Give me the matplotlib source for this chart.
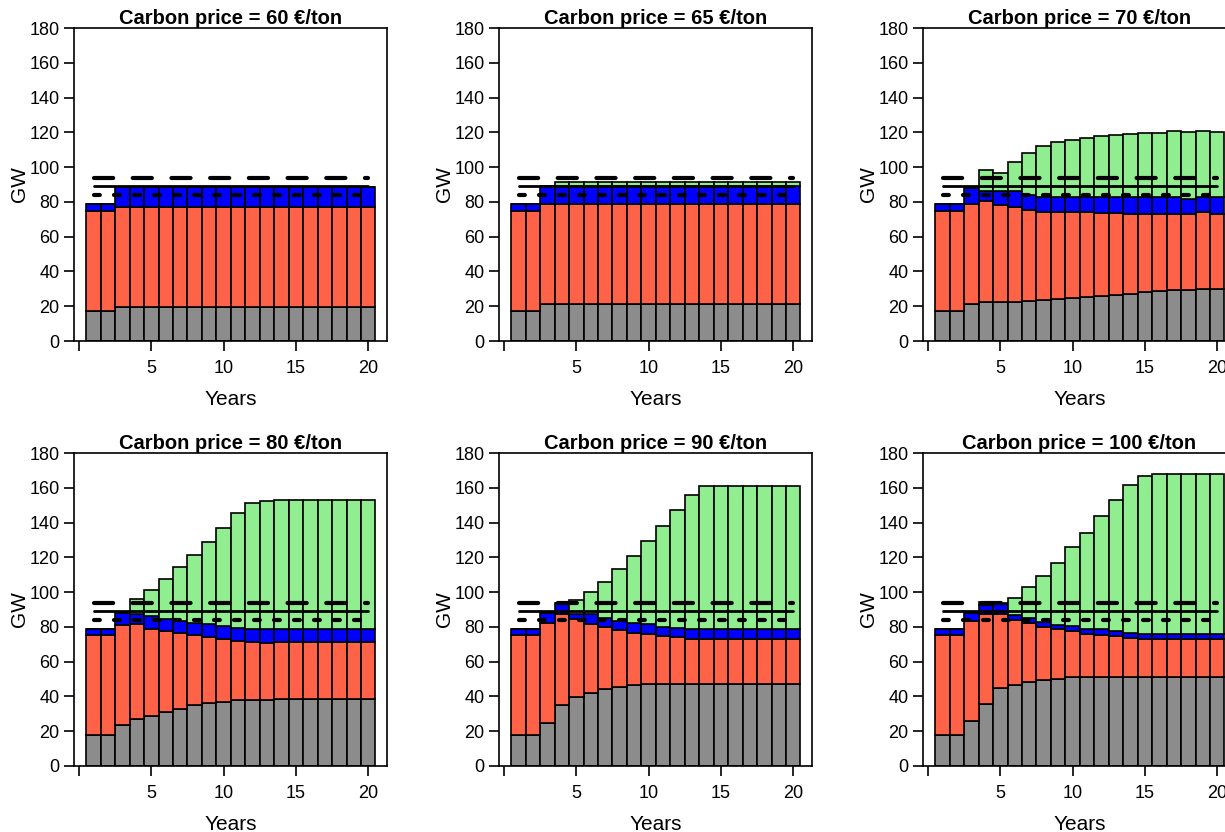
import matplotlib
matplotlib.use("Agg")
import matplotlib.pyplot as plt
import numpy as np

plt.rcParams['font.family'] = ['Liberation Sans', 'DejaVu Sans']

years = np.arange(1, 21)
prices = [60, 65, 70, 80, 90, 100]

# capacity per layer (GW), stacked bottom to top
gray_gw = {
    60: [17.5] * 2 + [19.5] * 18,
    65: [17.5] * 2 + [21] * 18,
    70: [17.5, 17.5, 21.5, 22.5, 22.5, 22.7, 23, 23.8, 24.4, 25,
         25.4, 26, 26.7, 27.3, 28, 28.8, 29.2, 29.2, 30, 30],
    80: [17.7, 17.7, 23.5, 27, 29, 31, 33, 35, 36, 37,
         38, 38, 38, 38.3, 38.3, 38.3, 38.3, 38.3, 38.3, 38.3],
    90: [17.7, 17.7, 25, 35, 39.5, 42, 44, 45.5, 46.3, 47,
         47, 47, 47, 47, 47, 47, 47, 47, 47, 47],
    100: [17.7, 17.7, 26, 35.5, 45, 46.5, 48.5, 49.5, 50.2, 51,
          51, 51, 51, 51, 51, 51, 51, 51, 51, 51],
}
red_gw = {
    60: [57.5] * 20,
    65: [57.5] * 20,
    70: [57.5, 57.5, 57.5, 57.9, 55.8, 54.4, 52.6, 50.6, 50, 49.2,
         48.8, 47.8, 46.8, 46, 45.3, 44.3, 44.1, 43.7, 44, 43.3],
    80: [57.8, 57.8, 57.5, 54.5, 50, 46.5, 43.5, 40.2, 38, 35.8,
         34, 33.5, 32.5, 32.9, 32.9, 32.9, 32.9, 32.9, 32.9, 32.9],
    90: [57.8, 57.8, 57, 52.5, 44.8, 39.4, 35.9, 32.7, 30.3, 29,
         27.7, 27, 25.8, 25.8, 25.8, 25.8, 25.8, 25.8, 25.8, 25.8],
    100: [57.8, 57.8, 57.5, 52, 42.5, 37.5, 33.5, 30.3, 28.5, 26.5,
          25, 24.5, 23.5, 22.5, 22, 22, 22, 22, 22, 22],
}
blue_gw = {
    60: [4] * 2 + [11.5] * 18,
    65: [4] * 2 + [10.5] * 18,
    70: [4, 4, 9, 5.8, 7.7, 8.9, 8.4, 8.6, 8.6, 8.8,
         8.8, 8.9, 9.2, 9.4, 9.4, 9.6, 9.4, 8.9, 8.7, 9.4],
    80: [3.5, 3.5, 7, 6, 7.5, 7, 7, 7.3, 7.5, 7.7,
         7.5, 7.5, 8, 7.6, 7.6, 7.6, 7.6, 7.6, 7.6, 7.6],
    90: [3.5, 3.5, 6, 6.5, 3.1, 5.8, 5, 5.3, 5.4, 5.4,
         5.3, 5.5, 5.7, 5.7, 5.7, 5.7, 5.7, 5.7, 5.7, 5.7],
    100: [3.5, 3.5, 4.5, 5.2, 5.5, 3, 3, 3.2, 2.6, 3,
          3, 3, 3, 3, 3, 3, 3, 3, 3, 3],
}
green_gw = {
    60: [0] * 20,
    65: [0] * 3 + [2.7] * 17,
    70: [0, 0, 0, 12.1, 10.4, 17, 24, 29.3, 31.6, 32.8,
         34, 35, 36, 36.5, 36.9, 36.9, 37.9, 38.2, 38.3, 37.5],
    80: [0, 0, 0, 8.5, 14.5, 23, 31, 39, 47.5, 56.5,
         66, 72.5, 74, 74.2, 74.2, 74.2, 74.2, 74.2, 74.2, 74.2],
    90: [0, 0, 0, 0, 7.8, 12.8, 21.1, 29.7, 38.9, 47.9,
         58, 67.8, 77.2, 82.4, 82.4, 82.4, 82.4, 82.4, 82.4, 82.4],
    100: [0, 0, 0, 1.9, 1, 9.5, 17.7, 26.4, 35.7, 45.5,
          55, 65.1, 75.2, 85.2, 90.7, 91.7, 91.7, 91.7, 91.7, 91.7],
}

# reference levels (GW)
level_high = 94
level_mid = 89
level_low = 84

layer_colors = ['#8c8c8c', '#ff6347', '#0000ff', '#90ee90']

W, H = 1225, 832
fig = plt.figure(figsize=(W / 100, H / 100), dpi=100)
lefts = [74, 499, 923]
bottoms = [491, 66]
size = 313

for i, p in enumerate(prices):
    r, c = divmod(i, 3)
    ax = fig.add_axes([lefts[c] / W, bottoms[r] / H, size / W, size / H])

    base = np.zeros(len(years))
    for layer, col in zip([gray_gw, red_gw, blue_gw, green_gw], layer_colors):
        vals = np.array(layer[p], dtype=float)
        ax.bar(years, vals, width=1, bottom=base, color=col,
               edgecolor='black', linewidth=1.2)
        base += vals

    ax.plot([1, 20], [level_high] * 2, color='black', lw=3.0,
            linestyle=(0, (4.6, 4.69)), dash_capstyle='round', zorder=4)
    ax.plot([1, 20], [level_mid] * 2, color='black', lw=2.0,
            solid_capstyle='round', zorder=4)
    ax.plot([1, 20], [level_low] * 2, color='black', lw=3.0,
            linestyle=(0, (1.4, 3.4)), dash_capstyle='round', zorder=4)

    ax.set_xlim(-0.35, 21.3)
    ax.set_ylim(0, 180)
    ax.set_yticks(np.arange(0, 181, 20))
    ax.set_xticks([0, 5, 10, 15, 20])
    ax.set_xticklabels(['', '5', '10', '15', '20'])
    ax.tick_params(axis='both', direction='out', length=7.5, width=1.2,
                   labelsize=13, color='black')
    ax.tick_params(axis='x', pad=6)
    ax.tick_params(axis='y', pad=3)
    for s in ax.spines.values():
        s.set_linewidth(1.2)

    ax.set_title(f'Carbon price = {p} €/ton', fontsize=14.5,
                 fontweight='bold', pad=3)
    ax.set_xlabel('Years', fontsize=15)
    ax.set_ylabel('GW', fontsize=15)
    ax.xaxis.set_label_coords(0.5, -0.155)
    ax.yaxis.set_label_coords(-0.145, 0.5)

fig.savefig('out.png', dpi=100)
